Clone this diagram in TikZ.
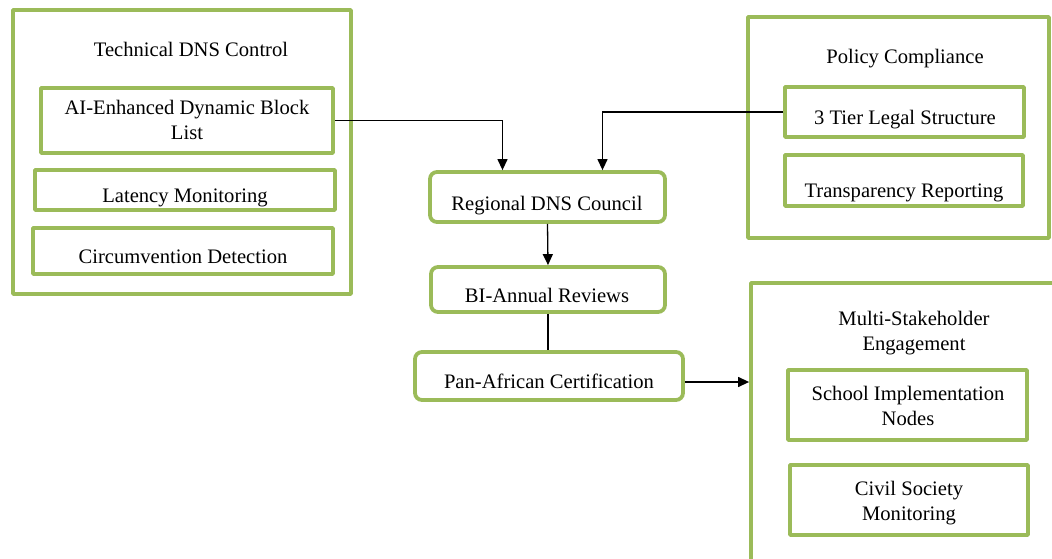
\documentclass[tikz,border=0pt]{standalone}
\usepackage{fontspec}
\setmainfont{Liberation Serif}
\usetikzlibrary{arrows.meta,calc}
\definecolor{gr}{RGB}{155,187,89}
\begin{document}
\begin{tikzpicture}[x=1pt,y=-1pt,
  gb/.style={draw=gr,line width=3.8pt,inner sep=0pt,rectangle,line join=round},
  rb/.style={gb,rounded corners=7pt},
  txt/.style={inner sep=0pt,align=center,font=\fontsize{20.6}{24.5}\selectfont},
  arr/.style={line width=1.3pt,-{Triangle[length=11pt,width=10pt]}},
  ln/.style={line width=1.3pt}]
\useasboundingbox (0,0) rectangle (1052,559);
\clip (0,0) rectangle (1052,559);
% outer group boxes
\node[gb,minimum width=338pt,minimum height=284pt] (tech) at (182,152) {};
\node[gb,minimum width=301pt,minimum height=221pt] (pol) at (898.5,127.5) {};
\node[gb,minimum width=349pt,minimum height=317pt] (multi) at (925.5,441.5) {};
% inner boxes
\node[gb,minimum width=292pt,minimum height=65pt] (ai) at (187,120.5) {};
\node[gb,minimum width=300pt,minimum height=40pt] (lat) at (185,190) {};
\node[gb,minimum width=300pt,minimum height=46pt] (circ) at (183,251) {};
\node[gb,minimum width=239pt,minimum height=50pt] (tier) at (904.5,112) {};
\node[gb,minimum width=238pt,minimum height=51pt] (trans) at (904,180.5) {};
\node[gb,minimum width=239pt,minimum height=70pt] (school) at (907.5,405) {};
\node[gb,minimum width=238pt,minimum height=70pt] (civil) at (909,500) {};
% center flow
\node[rb,minimum width=235pt,minimum height=50pt] (reg) at (547.5,197) {};
\node[rb,minimum width=234pt,minimum height=45pt] (bi) at (548,289.5) {};
\node[rb,minimum width=268pt,minimum height=48pt] (pan) at (549,376) {};
% texts
\node[txt,anchor=base] (techT) at (191,57) {Technical DNS Control};
\node[txt] (aiT) at (187,120) {AI-Enhanced Dynamic Block\\List};
\node[txt,anchor=base] (latT) at (185,202) {Latency Monitoring};
\node[txt,anchor=base] (circT) at (183,263) {Circumvention Detection};
\node[txt,anchor=base] (polT) at (905,64) {Policy Compliance};
\node[txt,anchor=base] (tierT) at (905,125) {3 Tier Legal Structure};
\node[txt,anchor=base] (transT) at (904,197) {Transparency Reporting};
\node[txt] (multiT) at (914,333) {Multi-Stakeholder\\Engagement};
\node[txt] (schoolT) at (908,406) {School Implementation\\Nodes};
\node[txt] (civilT) at (909,503) {Civil Society\\Monitoring};
\node[txt,anchor=base] (regT) at (547,210) {Regional DNS Council};
\node[txt,anchor=base] (biT) at (547,302) {BI-Annual Reviews};
\node[txt,anchor=base] (panT) at (549,388) {Pan-African Certification};
% connectors
\draw[arr] (ai.east) -| ([xshift=-45pt]reg.north);
\draw[arr] (tier.west) -| ([xshift=55pt]reg.north);
\draw[arr] (reg.south) -- (bi.north);
\draw[ln] (bi.south) -- (bi.south |- pan.north);
\draw[arr] ([yshift=-6pt]pan.east) -- ([yshift=-6pt]pan.east -| multi.west);
\end{tikzpicture}
\end{document}
